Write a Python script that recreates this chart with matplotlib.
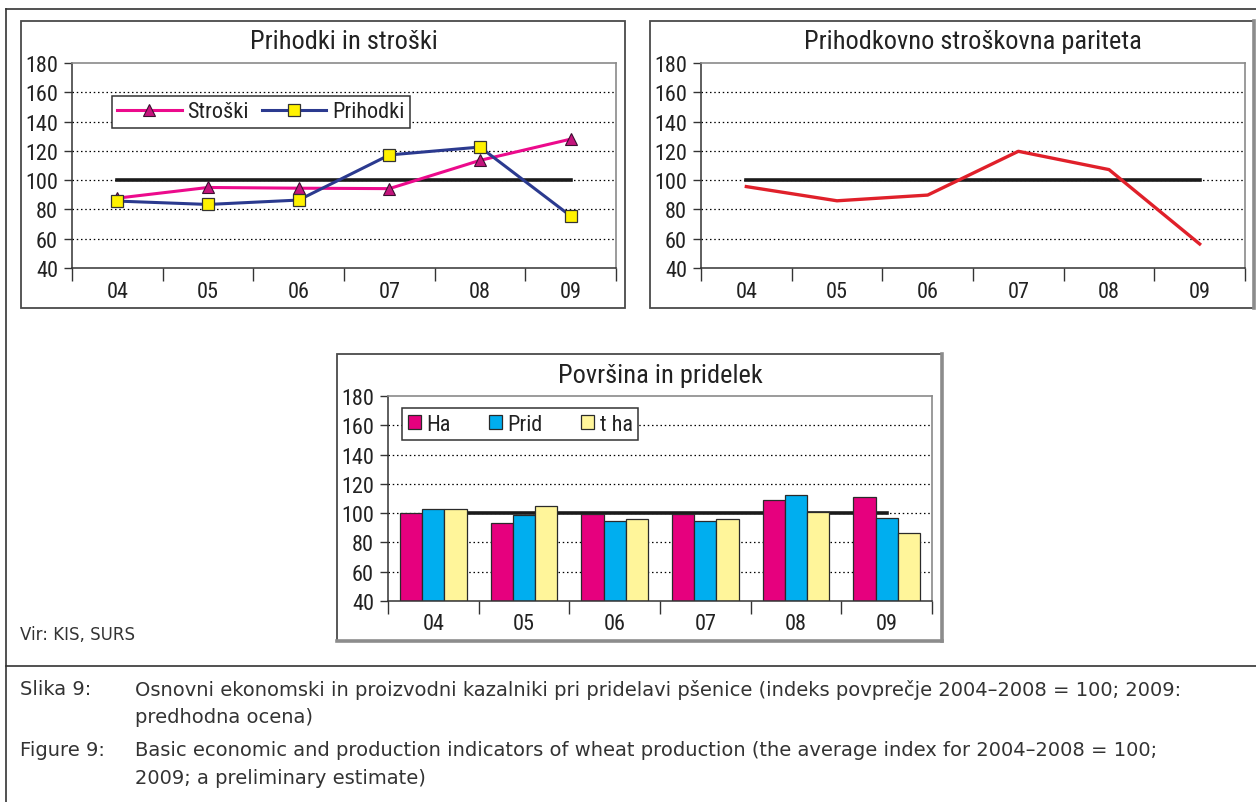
import numpy as np
import matplotlib
matplotlib.use('Agg')
import matplotlib.pyplot as plt
from matplotlib.patches import Rectangle
from matplotlib.lines import Line2D

# podatki (indeks povprecje 2004-2008 = 100)
leta = ['04', '05', '06', '07', '08', '09']
stroski = [87.7, 95.0, 94.5, 94.2, 113.5, 128.0]
prihodki = [85.7, 83.4, 86.4, 117.2, 122.6, 75.5]
pariteta = [95.6, 85.9, 89.8, 119.7, 107.2, 56.4]
ha = [99.8, 93.4, 99.6, 99.4, 109.2, 111.0]
prid = [102.6, 98.9, 94.6, 94.6, 112.6, 96.9]
t_ha = [102.6, 104.8, 95.9, 95.9, 100.7, 86.4]
osnova = 100
y_ticks = [40, 60, 80, 100, 120, 140, 160, 180]

W, H = 1256, 803
OZKA = ['Roboto Condensed', 'Liberation Sans', 'DejaVu Sans']
SIROKA = ['DejaVu Sans']
plt.rcParams['font.family'] = OZKA
TXT = '#222222'


def rect(x0, y0, x1, y1):
    # pikselne koordinate (od zgoraj levo) -> koordinate slike
    return [x0 / W, 1 - y1 / H, (x1 - x0) / W, (y1 - y0) / H]


def crta(fig, xs, ys, barva='#333333', lw=1.2):
    fig.add_artist(Line2D([v / W for v in xs], [1 - v / H for v in ys],
                          transform=fig.transFigure, color=barva, lw=lw))


def okvir(fig, x0, y0, x1, y1, senca=()):
    fig.add_artist(Rectangle((x0 / W, 1 - y1 / H), (x1 - x0) / W, (y1 - y0) / H,
                             transform=fig.transFigure, fill=False,
                             edgecolor='#4a4a4a', linewidth=1.3))
    # siva senca ob desnem / spodnjem robu
    if 'desno' in senca:
        crta(fig, [x1, x1], [y0, y1], '#8c8c8c', 2.6)
    if 'spodaj' in senca:
        crta(fig, [x0, x1], [y1, y1], '#8c8c8c', 2.6)


def os_grafa(ax):
    x = np.arange(len(leta))
    ax.set_xlim(-0.5, len(leta) - 0.5)
    ax.set_ylim(y_ticks[0], y_ticks[-1])
    ax.set_yticks(y_ticks)
    ax.set_xticks(x)
    ax.set_xticklabels(leta)
    ax.set_xticks(np.arange(-0.5, len(leta), 1), minor=True)
    ax.tick_params(axis='x', which='major', length=0, pad=9, labelsize=16, labelcolor=TXT)
    ax.tick_params(axis='x', which='minor', length=9, width=1, color='#333333', direction='out')
    ax.tick_params(axis='y', length=6, width=1, color='#333333', pad=4, labelsize=16, labelcolor=TXT)
    for s in ['top', 'right']:
        ax.spines[s].set_color('#8a8a8a')
        ax.spines[s].set_linewidth(1.2)
    for s in ['left', 'bottom']:
        ax.spines[s].set_color('#333333')
        ax.spines[s].set_linewidth(1.1)
    for y in y_ticks[1:-1]:
        ax.axhline(y, color='black', linewidth=0.9, linestyle=(0, (1.2, 2.2)), zorder=0.5)
    return x


fig = plt.figure(figsize=(W / 100, H / 100), dpi=100)

# zunanji okvir in locnica nad napisom
crta(fig, [6, W], [10, 10])
crta(fig, [6, 6], [10, H])
crta(fig, [6, W], [667, 667])

# --- Prihodki in stroski ---
okvir(fig, 21, 22, 625, 309)
ax1 = fig.add_axes(rect(72, 64, 616, 269))
x = os_grafa(ax1)
ax1.plot([x[0], x[-1]], [osnova, osnova], color='#1a1a1a', lw=2.6, zorder=2)
ax1.plot(x, stroski, color='#EC0A8C', lw=2.2, marker='^', markersize=9,
         markerfacecolor='#C4147C', markeredgecolor='#3a1030', markeredgewidth=0.8,
         label='Stroški', zorder=3)
ax1.plot(x, prihodki, color='#2B3A8F', lw=2.2, marker='s', markersize=9,
         markerfacecolor='#FFF200', markeredgecolor='#333333', markeredgewidth=0.9,
         label='Prihodki', zorder=3)
leg1 = ax1.legend(loc='upper left', bbox_to_anchor=(0.073, 0.84), ncol=2, fontsize=16,
                  handlelength=2.9, columnspacing=0.6, handletextpad=0.25, borderpad=0.25,
                  frameon=True, fancybox=False, edgecolor='#333333', framealpha=1,
                  borderaxespad=0)
leg1.get_frame().set_linewidth(1.1)
for t in leg1.get_texts():
    t.set_color(TXT)
fig.text(344 / W, 1 - 42 / H, 'Prihodki in stroški', ha='center', va='center', fontsize=19, color=TXT)

# --- Prihodkovno stroskovna pariteta ---
okvir(fig, 650, 22, 1254, 309, senca=('desno',))
ax2 = fig.add_axes(rect(701, 64, 1245, 269))
x = os_grafa(ax2)
ax2.plot([x[0], x[-1]], [osnova, osnova], color='#1a1a1a', lw=2.6, zorder=2)
ax2.plot(x, pariteta, color='#E0202A', lw=2.4, zorder=3)
fig.text(973 / W, 1 - 42 / H, 'Prihodkovno stroškovna pariteta', ha='center', va='center',
         fontsize=19, color=TXT)

# --- Povrsina in pridelek ---
okvir(fig, 337, 355, 942, 642, senca=('desno', 'spodaj'))
ax3 = fig.add_axes(rect(388, 397, 932, 602))
x = os_grafa(ax3)
ax3.plot([x[0], x[-1]], [osnova, osnova], color='#1a1a1a', lw=2.6, zorder=1)
sirina = 0.245
baza = y_ticks[0]
for i, (vals, barva, ime) in enumerate([(ha, '#E6007E', 'Ha'), (prid, '#00AEEF', 'Prid'),
                                         (t_ha, '#FFF59A', 't ha')]):
    ax3.bar(x + (i - 1) * sirina, np.array(vals) - baza, sirina, bottom=baza, color=barva,
            edgecolor='#2a2a2a', linewidth=0.9, label=ime, zorder=2)
leg3 = ax3.legend(loc='upper left', bbox_to_anchor=(0.026, 0.94), ncol=3, fontsize=16,
                  handlelength=0.6, handleheight=0.6, columnspacing=1.7, handletextpad=0.25,
                  borderpad=0.25, frameon=True, fancybox=False, edgecolor='#333333',
                  framealpha=1, borderaxespad=0)
leg3.get_frame().set_linewidth(1.1)
for t in leg3.get_texts():
    t.set_color(TXT)
fig.text(660 / W, 1 - 376 / H, 'Površina in pridelek', ha='center', va='center',
         fontsize=19, color=TXT)

# vir in napis slike
fig.text(20 / W, 1 - 635 / H, 'Vir: KIS, SURS', ha='left', va='center', fontsize=12,
         color='#333333', family=SIROKA)
napis = [
    (690, 'Slika 9:', 'Osnovni ekonomski in proizvodni kazalniki pri pridelavi pšenice (indeks povprečje 2004–2008 = 100; 2009:'),
    (718, '', 'predhodna ocena)'),
    (751, 'Figure 9:', 'Basic economic and production indicators of wheat production (the average index for 2004–2008 = 100;'),
    (779, '', '2009; a preliminary estimate)'),
]
for y, oznaka, besedilo in napis:
    if oznaka:
        fig.text(20 / W, 1 - y / H, oznaka, ha='left', va='center', fontsize=14,
                 color='#333333', family=SIROKA)
    fig.text(135 / W, 1 - y / H, besedilo, ha='left', va='center', fontsize=14,
             color='#333333', family=SIROKA)

fig.savefig('out.png', dpi=100)
